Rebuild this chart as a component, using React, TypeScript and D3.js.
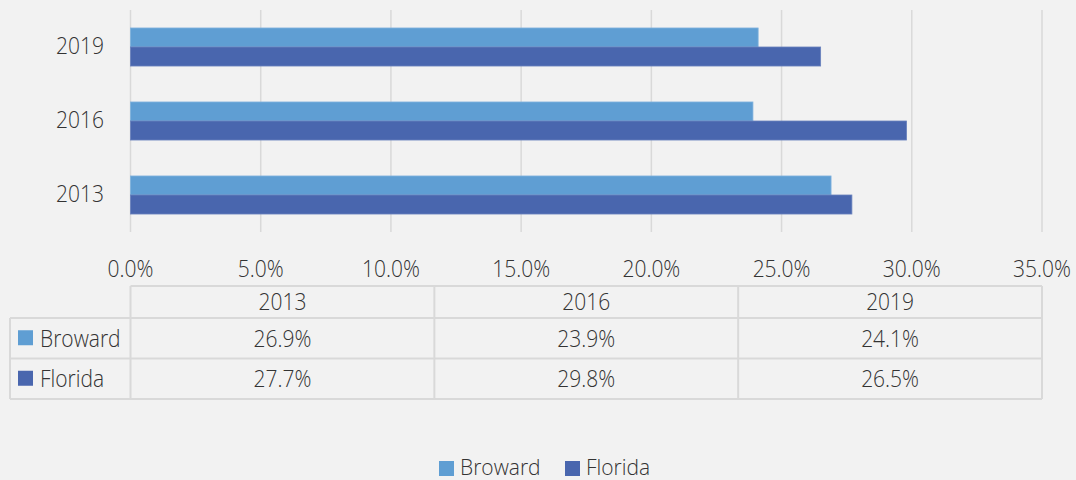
import React from "react";
import * as d3 from "d3";

const categories = ["2013", "2016", "2019"];
const seriesNames = ["Broward", "Florida"];
const broward = [26.9, 23.9, 24.1];
const florida = [27.7, 29.8, 26.5];
const xTicks = [0, 5, 10, 15, 20, 25, 30, 35];
const colors = ["#5f9ed3", "#4966ae"];
const strokes = ["#7fb2de", "#6a82bd"];

const W = 1076, H = 480;
const FONT = "'Open Sans', 'Noto Sans', sans-serif";
const TXT = "#333333";
const GRID = "#d9d9d9";
const FS = 21;

function T({ x, y, anchor = "start", sy = 1.13, children }: { x: number; y: number; anchor?: string; sy?: number; children: React.ReactNode }) {
  return (
    <text
      transform={`translate(${x},${y}) scale(1,${sy})`}
      dy="0.35em"
      textAnchor={anchor}
      fontFamily={FONT}
      fontWeight={300}
      fontSize={FS}
      fill={TXT}
    >
      {children}
    </text>
  );
}

export default function App() {
  const x = d3.scaleLinear().domain([0, 35]).range([130.5, 1042]);
  const y = d3.scaleBand<string>().domain([...categories].reverse()).range([10, 232]).paddingInner(0.486).paddingOuter(0.243);
  const sub = d3.scaleBand<string>().domain(seriesNames).range([0, y.bandwidth()]);
  const values = [broward, florida];
  const colX = d3.scaleBand<string>().domain(categories).range([130.5, 1042]);
  const rowsY = [286, 318, 358.5, 399];

  return (
    <svg width={W} height={H} style={{ position: "absolute", left: 0, top: 0, background: "#f2f2f2" }}>
      <rect x={0} y={0} width={W} height={H} fill="#f2f2f2" />
      {xTicks.map((t) => (
        <line key={t} x1={x(t)} x2={x(t)} y1={10} y2={232} stroke={GRID} strokeWidth={1.5} />
      ))}
      {categories.map((c, ci) =>
        seriesNames.map((s, si) => (
          <rect
            key={c + s}
            x={x(0)}
            y={(y(c) as number) + (sub(s) as number)}
            width={x(values[si][ci]) - x(0)}
            height={sub.bandwidth()}
            fill={colors[si]}
            stroke={strokes[si]}
            strokeWidth={0.8}
          />
        ))
      )}
      {categories.map((c) => (
        <T key={c} x={104} y={(y(c) as number) + y.bandwidth() / 2 - 1} anchor="end">{c}</T>
      ))}
      {xTicks.map((t) => (
        <T key={t} x={x(t)} y={268.5} anchor="middle">{t.toFixed(1) + "%"}</T>
      ))}
      <g stroke={GRID} strokeWidth={2} fill="none">
        <line x1={130.5} x2={1042} y1={rowsY[0]} y2={rowsY[0]} />
        <line x1={10} x2={1042} y1={rowsY[1]} y2={rowsY[1]} />
        <line x1={10} x2={1042} y1={rowsY[2]} y2={rowsY[2]} />
        <line x1={10} x2={1042} y1={rowsY[3]} y2={rowsY[3]} />
        <line x1={10} x2={10} y1={rowsY[1]} y2={rowsY[3]} />
        <line x1={130.5} x2={130.5} y1={rowsY[0]} y2={rowsY[3]} />
        {categories.map((c) => (
          <line key={c} x1={(colX(c) as number) + colX.bandwidth()} x2={(colX(c) as number) + colX.bandwidth()} y1={rowsY[0]} y2={rowsY[3]} />
        ))}
      </g>
      {categories.map((c) => (
        <T key={c} x={(colX(c) as number) + colX.bandwidth() / 2} y={(rowsY[0] + rowsY[1]) / 2} anchor="middle">{c}</T>
      ))}
      {seriesNames.map((s, si) => {
        const cy = (rowsY[si + 1] + rowsY[si + 2]) / 2;
        return (
          <g key={s}>
            <rect x={18} y={cy - 8} width={15} height={15} fill={colors[si]} />
            <T x={40} y={cy}>{s}</T>
            {categories.map((c, ci) => (
              <T key={c} x={(colX(c) as number) + colX.bandwidth() / 2} y={cy} anchor="middle">
                {values[si][ci].toFixed(1) + "%"}
              </T>
            ))}
          </g>
        );
      })}
      {seriesNames.map((s, si) => {
        const lx = si === 0 ? 439 : 565;
        return (
          <g key={s}>
            <rect x={lx} y={461} width={15} height={15} fill={colors[si]} />
            <T x={lx + 21} y={467.5} sy={1.06}>{s}</T>
          </g>
        );
      })}
    </svg>
  );
}
